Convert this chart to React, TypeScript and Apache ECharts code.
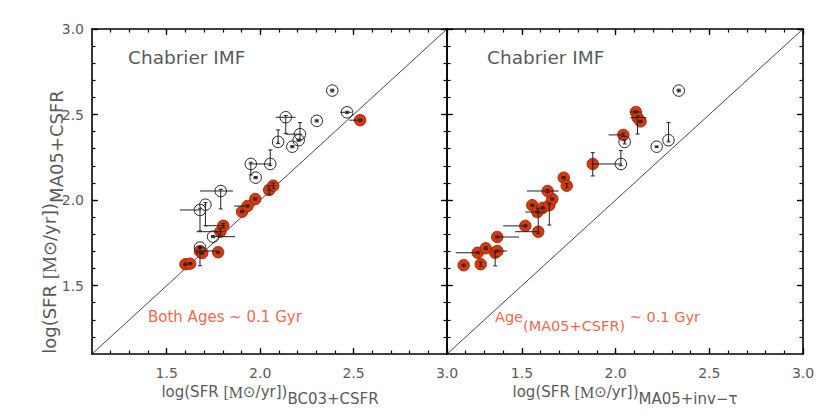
import React, { useEffect, useRef } from "react";
import * as echarts from "echarts";

const X_MIN = 1.1;
const X_MAX = 3.0;
const Y_MIN = 1.1;
const Y_MAX = 3.0;
const majorTicks = [1.5, 2.0, 2.5, 3.0];
const minorTicks = [1.2, 1.3, 1.4, 1.5, 1.6, 1.7, 1.8, 1.9, 2.0, 2.1, 2.2, 2.3, 2.4, 2.5, 2.6, 2.7, 2.8, 2.9];
const diagonal = [
  [1.1, 1.1],
  [3.0, 3.0],
];

// [x, y, xErrMinus, xErrPlus, yErrMinus, yErrPlus]
const leftFilled = [
  [1.600, 1.625, 0.012, 0.012, 0.006, 0.006],
  [1.625, 1.628, 0.012, 0.012, 0.006, 0.006],
  [1.678, 1.702, 0.020, 0.090, 0.086, 0.025],
  [1.690, 1.690, 0.012, 0.012, 0.006, 0.006],
  [1.775, 1.695, 0.012, 0.012, 0.006, 0.006],
  [1.787, 1.815, 0.127, 0.012, 0.020, 0.020],
  [1.803, 1.850, 0.100, 0.012, 0.012, 0.012],
  [1.903, 1.932, 0.012, 0.012, 0.006, 0.006],
  [1.932, 1.965, 0.072, 0.014, 0.006, 0.006],
  [1.974, 2.006, 0.012, 0.012, 0.006, 0.006],
  [2.048, 2.059, 0.012, 0.012, 0.025, 0.025],
  [2.070, 2.084, 0.012, 0.012, 0.015, 0.015],
  [2.535, 2.467, 0.058, 0.012, 0.006, 0.006],
];
const leftOpen = [
  [2.386, 2.640, 0.012, 0.012, 0.008, 0.008],
  [2.465, 2.513, 0.037, 0.025, 0.006, 0.006],
  [2.303, 2.463, 0.012, 0.012, 0.006, 0.006],
  [2.137, 2.484, 0.054, 0.053, 0.094, 0.010],
  [2.213, 2.385, 0.076, 0.012, 0.034, 0.068],
  [2.206, 2.350, 0.012, 0.012, 0.006, 0.006],
  [2.172, 2.312, 0.012, 0.012, 0.006, 0.006],
  [2.096, 2.340, 0.006, 0.006, 0.010, 0.070],
  [2.054, 2.211, 0.006, 0.006, 0.010, 0.082],
  [1.950, 2.211, 0.012, 0.104, 0.064, 0.010],
  [1.976, 2.131, 0.012, 0.012, 0.006, 0.006],
  [1.789, 2.053, 0.111, 0.066, 0.105, 0.010],
  [1.707, 1.973, 0.006, 0.006, 0.123, 0.012],
  [1.678, 1.942, 0.107, 0.006, 0.123, 0.010],
  [1.748, 1.786, 0.012, 0.118, 0.006, 0.006],
  [1.678, 1.722, 0.012, 0.012, 0.006, 0.006],
];
const rightFilled = [
  [1.189, 1.619, 0.012, 0.012, 0.006, 0.006],
  [1.280, 1.625, 0.006, 0.006, 0.012, 0.012],
  [1.264, 1.692, 0.117, 0.012, 0.006, 0.006],
  [1.307, 1.718, 0.012, 0.012, 0.008, 0.008],
  [1.357, 1.692, 0.006, 0.006, 0.077, 0.010],
  [1.369, 1.702, 0.012, 0.051, 0.006, 0.006],
  [1.368, 1.784, 0.012, 0.117, 0.006, 0.006],
  [1.518, 1.849, 0.118, 0.012, 0.006, 0.006],
  [1.587, 1.815, 0.123, 0.006, 0.010, 0.137],
  [1.555, 1.970, 0.012, 0.012, 0.006, 0.006],
  [1.582, 1.930, 0.064, 0.043, 0.006, 0.006],
  [1.610, 1.954, 0.012, 0.012, 0.006, 0.006],
  [1.646, 1.970, 0.006, 0.006, 0.116, 0.012],
  [1.662, 2.006, 0.012, 0.012, 0.006, 0.006],
  [1.637, 2.053, 0.110, 0.059, 0.010, 0.010],
  [1.723, 2.131, 0.012, 0.012, 0.006, 0.006],
  [1.739, 2.084, 0.006, 0.006, 0.012, 0.012],
  [1.878, 2.211, 0.006, 0.006, 0.070, 0.066],
  [2.041, 2.381, 0.079, 0.006, 0.010, 0.010],
  [2.108, 2.515, 0.030, 0.020, 0.006, 0.006],
  [2.117, 2.482, 0.037, 0.047, 0.096, 0.010],
  [2.133, 2.460, 0.012, 0.012, 0.006, 0.006],
];
const rightOpen = [
  [2.337, 2.640, 0.012, 0.012, 0.008, 0.008],
  [2.282, 2.350, 0.006, 0.006, 0.010, 0.103],
  [2.219, 2.312, 0.008, 0.008, 0.004, 0.004],
  [2.048, 2.340, 0.006, 0.006, 0.012, 0.012],
  [2.028, 2.211, 0.150, 0.006, 0.010, 0.078],
];

const FONT = "DejaVu Sans";
const TXT = "#5a5a5a";
const RED = "#D8380F";
const ANNOT = "#EE6A4E";

function axisPair(kind: "x" | "y", grid: number, position: string, labels: boolean) {
  const base = {
    type: "value",
    gridIndex: grid,
    position,
    min: kind === "x" ? X_MIN : Y_MIN,
    max: kind === "x" ? X_MAX : Y_MAX,
    splitLine: { show: false },
  };
  return [
    {
      ...base,
      axisLine: { show: true, onZero: false, lineStyle: { color: "#000", width: 1.6 } },
      axisTick: { show: true, inside: true, length: 6, customValues: majorTicks, lineStyle: { color: "#000", width: 1.3 } },
      axisLabel: {
        show: labels,
        customValues: majorTicks,
        formatter: (v: number) => v.toFixed(1),
        color: TXT,
        fontFamily: FONT,
        fontSize: 14,
        margin: kind === "x" ? 12 : 8,
      },
    },
    {
      ...base,
      axisLine: { show: false, onZero: false },
      axisTick: { show: true, inside: true, length: 3.5, customValues: minorTicks, lineStyle: { color: "#000", width: 1.2 } },
      axisLabel: { show: false },
    },
  ];
}

function errorSeries(data: number[][], ax: number) {
  return {
    type: "custom",
    xAxisIndex: ax,
    yAxisIndex: ax,
    z: 5,
    encode: { x: 0, y: 1 },
    data,
    renderItem: (_p: any, api: any) => {
      const x = api.value(0);
      const y = api.value(1);
      const pL = api.coord([x - api.value(2), y]);
      const pR = api.coord([x + api.value(3), y]);
      const pB = api.coord([x, y - api.value(4)]);
      const pT = api.coord([x, y + api.value(5)]);
      const st = { stroke: "#222", lineWidth: 1 };
      const cap = 2;
      return {
        type: "group",
        children: [
          { type: "line", shape: { x1: pL[0], y1: pL[1], x2: pR[0], y2: pR[1] }, style: st },
          { type: "line", shape: { x1: pB[0], y1: pB[1], x2: pT[0], y2: pT[1] }, style: st },
          { type: "line", shape: { x1: pB[0] - cap, y1: pB[1], x2: pB[0] + cap, y2: pB[1] }, style: st },
          { type: "line", shape: { x1: pT[0] - cap, y1: pT[1], x2: pT[0] + cap, y2: pT[1] }, style: st },
        ],
      };
    },
  };
}

function panelSeries(filled: number[][], open: number[][], ax: number) {
  return [
    {
      type: "line",
      xAxisIndex: ax,
      yAxisIndex: ax,
      data: diagonal,
      symbol: "none",
      lineStyle: { color: "#333", width: 0.9 },
      z: 1,
    },
    {
      type: "scatter",
      xAxisIndex: ax,
      yAxisIndex: ax,
      data: filled,
      encode: { x: 0, y: 1 },
      symbol: "circle",
      symbolSize: 11.5,
      itemStyle: { color: RED, borderColor: "#8a2000", borderWidth: 0.8, opacity: 1 },
      z: 3,
    },
    {
      type: "scatter",
      xAxisIndex: ax,
      yAxisIndex: ax,
      data: open,
      encode: { x: 0, y: 1 },
      symbol: "circle",
      symbolSize: 11.5,
      itemStyle: { color: "rgba(255,255,255,0)", borderColor: "#222", borderWidth: 1, opacity: 1 },
      z: 4,
    },
    errorSeries(filled, ax),
    errorSeries(open, ax),
  ];
}

function makeRich(size: number, color: string, drop: number) {
  return {
    a: { fontFamily: FONT, fontSize: size, fill: color, lineHeight: size + 2, verticalAlign: "top" },
    m: { fontFamily: "Liberation Serif", fontSize: size + 1, fill: color, lineHeight: size + 2, verticalAlign: "top" },
    b: { fontFamily: FONT, fontSize: size, fill: color, lineHeight: size + 2, padding: [drop, 0, 0, 0], verticalAlign: "top" },
  };
}

export default function App() {
  const ref = useRef<HTMLDivElement>(null);
  useEffect(() => {
    if (!ref.current) return;
    const chart = echarts.init(ref.current, undefined, { renderer: "svg" });
    const xAxis = [
      ...axisPair("x", 0, "bottom", true),
      ...axisPair("x", 0, "top", false),
      ...axisPair("x", 1, "bottom", true),
      ...axisPair("x", 1, "top", false),
    ];
    const yAxis = [
      ...axisPair("y", 0, "left", true),
      ...axisPair("y", 0, "right", false),
      ...axisPair("y", 1, "left", false),
      ...axisPair("y", 1, "right", false),
    ];
    chart.setOption({
      animation: false,
      backgroundColor: "#fff",
      grid: [
        { left: 92, top: 29, width: 355, height: 325 },
        { left: 447, top: 29, width: 356, height: 325 },
      ],
      xAxis,
      yAxis,
      series: [...panelSeries(leftFilled, leftOpen, 0), ...panelSeries(rightFilled, rightOpen, 4)],
      graphic: [
        { type: "text", x: 128, y: 57, style: { text: "Chabrier IMF", fontFamily: FONT, fontSize: 18.5, fill: TXT, verticalAlign: "middle" } },
        { type: "text", x: 487, y: 57, style: { text: "Chabrier IMF", fontFamily: FONT, fontSize: 18.5, fill: TXT, verticalAlign: "middle" } },
        {
          type: "text",
          x: 148,
          y: 309,
          style: { text: "{a|Both Ages ~ 0.1 Gyr}", rich: makeRich(15, ANNOT, 9), verticalAlign: "top" },
        },
        {
          type: "text",
          x: 495,
          y: 309,
          style: { text: "{a|Age}{b|(MA05+CSFR)}{a| ~ 0.1 Gyr}", rich: makeRich(14.5, ANNOT, 9), verticalAlign: "top" },
        },
        {
          type: "text",
          x: 270,
          y: 384,
          style: { text: "{a|log(SFR }{m|[M}{a|⊙/yr])}{b|BC03+CSFR}", rich: makeRich(15, TXT, 7), align: "center", verticalAlign: "top" },
        },
        {
          type: "text",
          x: 625,
          y: 384,
          style: { text: "{a|log(SFR }{m|[M}{a|⊙/yr])}{b|MA05+inv−τ}", rich: makeRich(15, TXT, 7), align: "center", verticalAlign: "top" },
        },
        {
          type: "text",
          x: 40,
          y: 222,
          rotation: Math.PI / 2,
          style: { text: "{a|log(SFR }{m|[M}{a|⊙/yr])}{b|MA05+CSFR}", rich: makeRich(18, TXT, 7), align: "center", verticalAlign: "top" },
        },
      ],
    });
    return () => chart.dispose();
  }, []);
  return <div ref={ref} style={{ position: "fixed", left: 0, top: 0, width: 830, height: 415 }} />;
}
